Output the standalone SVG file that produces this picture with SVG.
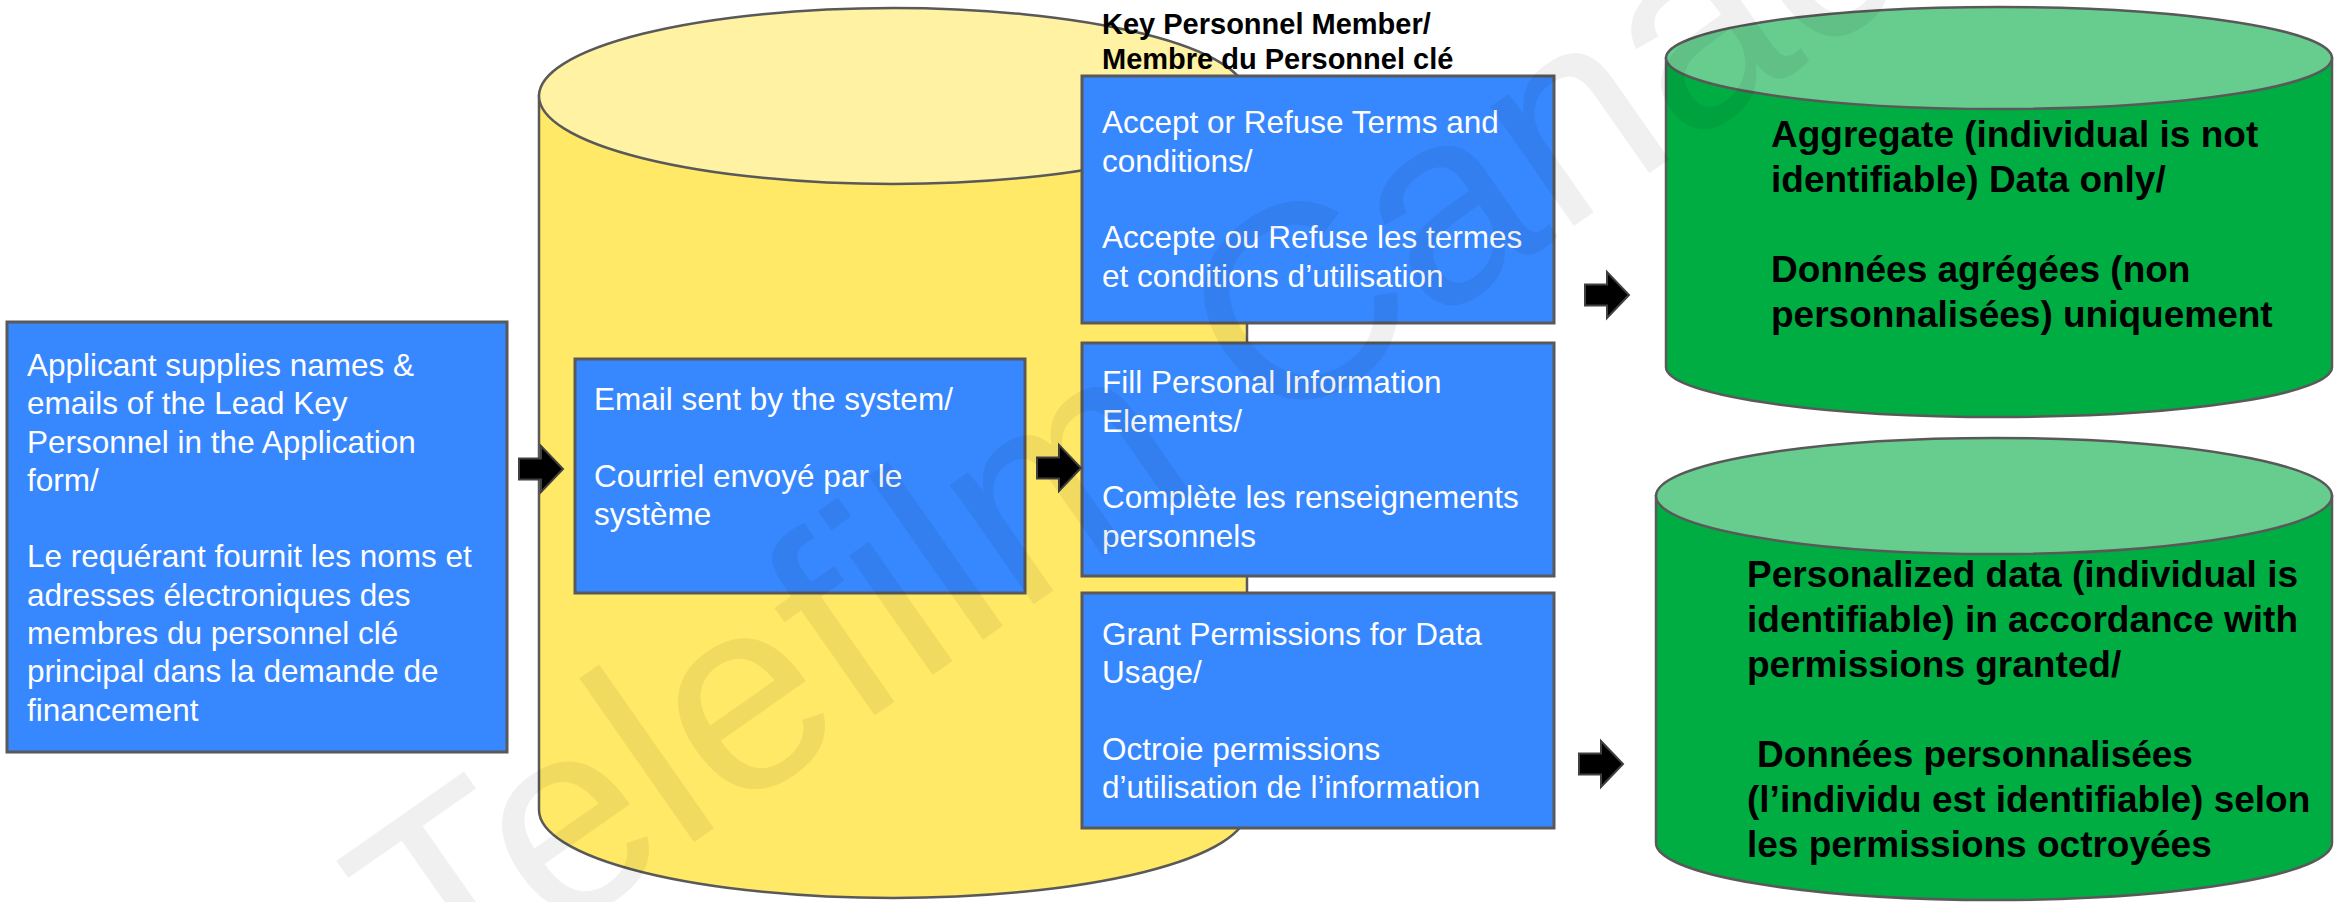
<svg xmlns="http://www.w3.org/2000/svg" width="2336" height="902" viewBox="0 0 2336 902">
<style>
text{font-family:"Liberation Sans",Arial,Helvetica,sans-serif}
.box{fill:#3787FF;stroke:#595959;stroke-width:3}
.bt{fill:#FFFFFF;font-size:31.5px}
.hd{fill:#000000;font-size:29px;font-weight:bold}
.gt{fill:#000000;font-size:37px;font-weight:bold}
.cyl{stroke:#595959;stroke-width:2.5}
.ybody{fill:#FFE966}
.ytop{fill:#FFF2A3}
.gbody{fill:#00AD43}
.gtop{fill:#66CD8E}
.arr{fill:#000000;stroke:#404040;stroke-width:2;stroke-linejoin:miter}
.wm{fill:#000000;fill-opacity:0.06;font-size:276px}
</style>
<defs>
<path id="arrow" d="M0,-10.5 H22 V-23 L44,0 L22,23 V10.5 H0 Z"/>
</defs>
<rect x="0" y="0" width="2336" height="902" fill="#FFFFFF"/>

<g id="system-cylinder">
<path class="cyl ybody" d="M539,96 V810 A354,88 0 0 0 1247,810 V96 Z"/>
<ellipse class="cyl ytop" cx="893" cy="96" rx="354" ry="88"/>
</g>

<g id="aggregate-cylinder">
<path class="cyl gbody" d="M1666,58 V367 A333,50 0 0 0 2332,367 V58 Z"/>
<ellipse class="cyl gtop" cx="1999" cy="58" rx="333" ry="51"/>
<text class="gt" x="1771" y="147">Aggregate (individual is not</text>
<text class="gt" x="1771" y="192">identifiable) Data only/</text>
<text class="gt" x="1771" y="282">Données agrégées (non</text>
<text class="gt" x="1771" y="327">personnalisées) uniquement</text>
</g>

<g id="personalized-cylinder">
<path class="cyl gbody" d="M1656,496 V843 A338,57 0 0 0 2332,843 V496 Z"/>
<ellipse class="cyl gtop" cx="1994" cy="496" rx="338" ry="58"/>
<text class="gt" x="1747" y="587">Personalized data (individual is</text>
<text class="gt" x="1747" y="632">identifiable) in accordance with</text>
<text class="gt" x="1747" y="677">permissions granted/</text>
<text class="gt" x="1757" y="767">Données personnalisées</text>
<text class="gt" x="1747" y="812">(l’individu est identifiable) selon</text>
<text class="gt" x="1747" y="857">les permissions octroyées</text>
</g>

<g id="applicant-box">
<rect class="box" x="7" y="322" width="500" height="430"/>
<text class="bt" x="27" y="376">Applicant supplies names &amp;</text>
<text class="bt" x="27" y="414">emails of the Lead Key</text>
<text class="bt" x="27" y="453">Personnel in the Application</text>
<text class="bt" x="27" y="491">form/</text>
<text class="bt" x="27" y="567">Le requérant fournit les noms et</text>
<text class="bt" x="27" y="606">adresses électroniques des</text>
<text class="bt" x="27" y="644">membres du personnel clé</text>
<text class="bt" x="27" y="682">principal dans la demande de</text>
<text class="bt" x="27" y="721">financement</text>
</g>

<g id="email-box">
<rect class="box" x="575" y="359" width="450" height="234"/>
<text class="bt" x="594" y="410">Email sent by the system/</text>
<text class="bt" x="594" y="487">Courriel envoyé par le</text>
<text class="bt" x="594" y="525">système</text>
</g>

<g id="key-personnel-header">
<text class="hd" x="1102" y="34">Key Personnel Member/</text>
<text class="hd" x="1102" y="69">Membre du Personnel clé</text>
</g>

<g id="terms-box">
<rect class="box" x="1082" y="76" width="472" height="247"/>
<text class="bt" x="1102" y="133">Accept or Refuse Terms and</text>
<text class="bt" x="1102" y="172">conditions/</text>
<text class="bt" x="1102" y="248">Accepte ou Refuse les termes</text>
<text class="bt" x="1102" y="287">et conditions d’utilisation</text>
</g>

<g id="personal-info-box">
<rect class="box" x="1082" y="343" width="472" height="233"/>
<text class="bt" x="1102" y="393">Fill Personal Information</text>
<text class="bt" x="1102" y="432">Elements/</text>
<text class="bt" x="1102" y="508">Complète les renseignements</text>
<text class="bt" x="1102" y="547">personnels</text>
</g>

<g id="permissions-box">
<rect class="box" x="1082" y="593" width="472" height="235"/>
<text class="bt" x="1102" y="645">Grant Permissions for Data</text>
<text class="bt" x="1102" y="683">Usage/</text>
<text class="bt" x="1102" y="760">Octroie permissions</text>
<text class="bt" x="1102" y="798">d’utilisation de l’information</text>
</g>

<g id="connectors">
<use href="#arrow" class="arr" transform="translate(519,469)"/>
<use href="#arrow" class="arr" transform="translate(1037,468)"/>
<use href="#arrow" class="arr" transform="translate(1585,295)"/>
<use href="#arrow" class="arr" transform="translate(1579,764)"/>
</g>

<text class="wm" transform="translate(440,1020) rotate(-35)">Telefilm Canada</text>
</svg>
